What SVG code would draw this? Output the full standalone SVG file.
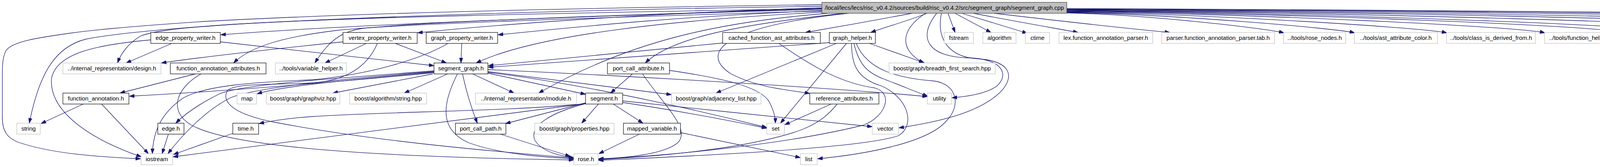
<svg xmlns="http://www.w3.org/2000/svg" width="6236" height="427" viewBox="0 0 6236 427">
<style>
rect{fill:#fff;stroke:#000;stroke-width:1.2}
.g rect{stroke:#bfbfbf}
.m rect{fill:#bfbfbf;stroke:#404040}
text{font-family:"Liberation Sans",Arial,Helvetica,sans-serif;font-size:15px;text-anchor:middle;fill:#000}
#edges path{fill:none;stroke:#191970;stroke-width:1.3;marker-end:url(#a)}
</style>
<defs>
<marker id="a" viewBox="0 0 13 9" markerWidth="13" markerHeight="9" refX="13" refY="4.5" orient="auto" markerUnits="userSpaceOnUse"><path d="M0,0L13,4.5L0,9z" fill="#191970" stroke="#191970" stroke-width="1"/></marker>
</defs>
<rect x="0" y="0" width="6236" height="427" style="fill:#fff;stroke:none"/>
<g id="edges">
<path d="M2104,24 C1600,38 900,62 565,89"/>
<path d="M2104,20 C1700,32 1300,60 1069,84"/>
<path d="M2104,27 C1700,44 1450,72 1275,89"/>
<path d="M2104,31 C1750,50 1380,85 1219,161"/>
<path d="M2160,34 C1900,62 1720,95 1652,161"/>
<path d="M2120,34 C1850,56 1620,100 1379,238"/>
<path d="M2335,34 C2250,50 2150,68 2062,83"/>
<path d="M2373,34 C2320,55 2270,68 2229,83"/>
<path d="M2172,34 C1850,68 1790,135 1870,188 C1940,225 2020,230 2073,239"/>
<path d="M2369,34 C2300,80 2305,130 2365,161"/>
<path d="M2398,34 C2345,100 2380,146 2480,148 C2565,150 2585,190 2552,220 C2525,240 2475,247 2437,250"/>
<path d="M2410,34 C2395,110 2440,146 2500,150 C2600,156 2595,205 2556,240 C2500,290 2400,312 2301,327"/>
<path d="M2427,34 L2445,83"/>
<path d="M2445,34 L2537,83"/>
<path d="M2462,34 L2630,85"/>
<path d="M2492,34 C2600,55 2700,72 2760,83"/>
<path d="M2545,34 C2750,58 2900,74 2995,83"/>
<path d="M2731,33 C2942,38 3236,72 3287,84"/>
<path d="M2731,32 C3011,37 3417,72 3468,84"/>
<path d="M2731,31 C3100,36 3645,71 3704,84"/>
<path d="M2731,30 C3196,35 3881,67 3955,84"/>
<path d="M2731,29 C3276,34 4078,64 4165,84"/>
<path d="M2731,28 C3328,33 4209,62 4304,84"/>
<path d="M2731,27 C3437,32 4477,59 4589,84"/>
<path d="M2731,26 C3548,31 4753,55 4883,84"/>
<path d="M2731,25 C3657,30 5023,52 5170,84"/>
<path d="M2731,24 C3797,29 5369,48 5538,84"/>
<path d="M2731,23 C3906,28 5637,45 5823,84"/>
<path d="M2731,22 C4011,27 5898,43 6101,84"/>
<path d="M2104,12 C1500,20 900,34 520,55 C300,70 230,78 178,85 C100,96 30,106 15,130 C5,150 6,175 6,210 L6,300 C6,335 18,352 45,363 C130,393 250,401 360,406"/>
<path d="M2104,16 C1400,26 900,45 600,62 C450,72 300,84 220,100 C140,120 100,190 75,315"/>
<path d="M2104,22 C1400,34 900,44 600,62 C450,72 390,80 360,92 C330,110 310,135 301,161"/>
<path d="M2104,28 C1500,46 1000,62 860,78 C720,95 640,120 598,161"/>
<path d="M2104,22 C1600,38 1100,55 960,70 C880,72 845,100 806,161"/>
<path d="M440,111 L323,161"/>
<path d="M564,107 C800,132 1000,155 1111,168"/>
<path d="M386,102 C250,114 145,135 132,200 C125,270 200,345 362,401"/>
<path d="M878,107 C700,125 500,148 413,161"/>
<path d="M938,111 L832,161"/>
<path d="M1012,111 L1143,161"/>
<path d="M966,111 C945,160 900,205 800,212 C700,217 600,212 582,232 C566,262 600,292 700,312 C950,360 1250,386 1469,404"/>
<path d="M1182,111 L1180,161"/>
<path d="M1147,111 C1080,150 950,190 800,204 C650,210 530,218 470,250 C410,290 392,340 390,393"/>
<path d="M1111,183 C900,200 660,222 590,250 C530,280 470,340 430,393"/>
<path d="M1111,186 C900,206 600,232 331,246"/>
<path d="M1111,184 C900,204 720,220 658,240"/>
<path d="M1111,181 C900,198 620,214 562,240 C505,268 470,295 450,315"/>
<path d="M1108,189 L852,238"/>
<path d="M1146,189 L1035,238"/>
<path d="M1184,189 C1195,240 1210,285 1222,315"/>
<path d="M1171,189 C1135,260 1120,330 1200,365 C1280,395 1400,402 1469,406"/>
<path d="M1210,189 L1316,238"/>
<path d="M1249,187 L1499,241"/>
<path d="M1249,183 L1719,242"/>
<path d="M1249,178 C1700,198 2200,230 2374,247"/>
<path d="M1249,185 C1500,215 1820,290 1963,326"/>
<path d="M500,189 L307,238"/>
<path d="M515,189 C450,225 430,285 490,320 C600,380 1000,402 1469,409"/>
<path d="M213,266 L105,316"/>
<path d="M260,266 L380,393"/>
<path d="M431,343 L415,393"/>
<path d="M596,341 L444,395"/>
<path d="M1619,189 L1563,238"/>
<path d="M1645,189 C1700,270 1770,330 1735,365 C1700,395 1600,404 1532,406"/>
<path d="M1714,180 C1850,200 1950,222 1970,262 C1982,285 1985,300 1985,315"/>
<path d="M1499,263 L1294,316"/>
<path d="M1532,266 L1489,315"/>
<path d="M1570,266 L1646,315"/>
<path d="M1499,265 C1420,285 1350,320 1370,360 C1390,390 1440,400 1469,403"/>
<path d="M1499,265 C1300,285 1000,285 800,298 C740,302 700,308 663,316"/>
<path d="M1499,265 L443,401"/>
<path d="M1594,262 C1750,285 1900,315 1963,328"/>
<path d="M1594,258 C1800,280 2050,305 2233,324"/>
<path d="M1281,343 L1460,400"/>
<path d="M1637,343 L1533,393"/>
<path d="M1742,339 L2049,403"/>
<path d="M1850,110 L1250,168"/>
<path d="M1994,111 C2080,170 2150,212 2240,225 C2290,240 2265,300 2210,320 C2000,372 1700,398 1532,407"/>
<path d="M2123,109 L1250,172"/>
<path d="M2141,111 L1833,238"/>
<path d="M2167,111 L1998,315"/>
<path d="M2180,111 C2180,160 2190,200 2257,220 C2325,250 2345,320 2300,347 C2200,382 1700,402 1532,410"/>
<path d="M2186,111 C2200,170 2225,188 2265,203 C2305,218 2345,235 2375,246"/>
<path d="M2192,111 C2220,180 2300,200 2391,207 C2450,215 2462,270 2422,310 C2372,368 2200,396 2093,406"/>
<path d="M2226,111 L2367,161"/>
<path d="M2128,266 L2009,319"/>
<path d="M2143,266 C2100,320 2050,342 1900,370 C1750,396 1600,404 1532,408"/>
</g>
<g id="main" class="m"><rect x="2104" y="6" width="627" height="28"/><text x="2417.5" y="25">/local/lecs/lecs/risc_v0.4.2/sources/build/risc_v0.4.2/src/segment_graph/segment_graph.cpp</text></g>
<g id="edge_property_writer"><rect x="386" y="83" width="178" height="28"/><text x="475" y="102">edge_property_writer.h</text></g>
<g id="vertex_property_writer"><rect x="878" y="83" width="190" height="28"/><text x="973" y="102">vertex_property_writer.h</text></g>
<g id="graph_property_writer"><rect x="1091" y="83" width="183" height="28"/><text x="1182.5" y="102">graph_property_writer.h</text></g>
<g id="cached_function_ast_attributes"><rect x="1850" y="83" width="250" height="28"/><text x="1975" y="102">cached_function_ast_attributes.h</text></g>
<g id="graph_helper"><rect x="2123" y="83" width="118" height="28"/><text x="2182" y="102">graph_helper.h</text></g>
<g id="fstream" class="g"><rect x="2417" y="83" width="75" height="28"/><text x="2454.5" y="102">fstream</text></g>
<g id="algorithm" class="g"><rect x="2516" y="83" width="85" height="28"/><text x="2558.5" y="102">algorithm</text></g>
<g id="ctime" class="g"><rect x="2625" y="83" width="62" height="28"/><text x="2656" y="102">ctime</text></g>
<g id="lex_parser" class="g"><rect x="2711" y="83" width="240" height="28"/><text x="2831" y="102">lex.function_annotation_parser.h</text></g>
<g id="parser_tab" class="g"><rect x="2974" y="83" width="289" height="28"/><text x="3118.5" y="102">parser.function_annotation_parser.tab.h</text></g>
<g id="rose_nodes" class="g"><rect x="3286" y="83" width="159" height="28"/><text x="3365.5" y="102">../tools/rose_nodes.h</text></g>
<g id="ast_attribute_color" class="g"><rect x="3467" y="83" width="213" height="28"/><text x="3573.5" y="102">../tools/ast_attribute_color.h</text></g>
<g id="class_is_derived_from" class="g"><rect x="3703" y="83" width="228" height="28"/><text x="3817" y="102">../tools/class_is_derived_from.h</text></g>
<g id="function_helper" class="g"><rect x="3954" y="83" width="186" height="28"/><text x="4047" y="102">../tools/function_helper.h</text></g>
<g id="misc" class="g"><rect x="4164" y="83" width="115" height="28"/><text x="4221.5" y="102">../tools/misc.h</text></g>
<g id="cthread" class="g"><rect x="4303" y="83" width="261" height="28"/><text x="4433.5" y="102">../internal_representation/cthread.h</text></g>
<g id="definition" class="g"><rect x="4588" y="83" width="270" height="28"/><text x="4723" y="102">../internal_representation/definition.h</text></g>
<g id="function" class="g"><rect x="4882" y="83" width="263" height="28"/><text x="5013.5" y="102">../internal_representation/function.h</text></g>
<g id="hierarchical_channel" class="g"><rect x="5169" y="83" width="344" height="28"/><text x="5341" y="102">../internal_representation/hierarchical_channel.h</text></g>
<g id="method" class="g"><rect x="5537" y="83" width="263" height="28"/><text x="5668.5" y="102">../internal_representation/method.h</text></g>
<g id="thread" class="g"><rect x="5822" y="83" width="255" height="28"/><text x="5949.5" y="102">../internal_representation/thread.h</text></g>
<g id="regex" class="g"><rect x="6100" y="83" width="131" height="28"/><text x="6165.5" y="102">boost/regex.hpp</text></g>
<g id="design" class="g"><rect x="161" y="161" width="251" height="28"/><text x="286.5" y="180">../internal_representation/design.h</text></g>
<g id="function_annotation_attributes"><rect x="436" y="161" width="245" height="28"/><text x="558.5" y="180">function_annotation_attributes.h</text></g>
<g id="variable_helper" class="g"><rect x="705" y="161" width="182" height="28"/><text x="796" y="180">../tools/variable_helper.h</text></g>
<g id="segment_graph"><rect x="1111" y="161" width="138" height="28"/><text x="1180" y="180">segment_graph.h</text></g>
<g id="port_call_attribute"><rect x="1555" y="161" width="159" height="28"/><text x="1634.5" y="180">port_call_attribute.h</text></g>
<g id="breadth_first_search" class="g"><rect x="2276" y="161" width="272" height="28"/><text x="2412" y="180">boost/graph/breadth_first_search.hpp</text></g>
<g id="function_annotation"><rect x="161" y="238" width="169" height="28"/><text x="245.5" y="257">function_annotation.h</text></g>
<g id="map" class="g"><rect x="607" y="238" width="50" height="28"/><text x="632" y="257">map</text></g>
<g id="graphviz" class="g"><rect x="682" y="238" width="188" height="28"/><text x="776" y="257">boost/graph/graphviz.hpp</text></g>
<g id="algorithm_string" class="g"><rect x="895" y="238" width="197" height="28"/><text x="993.5" y="257">boost/algorithm/string.hpp</text></g>
<g id="module" class="g"><rect x="1217" y="238" width="259" height="28"/><text x="1346.5" y="257">../internal_representation/module.h</text></g>
<g id="segment"><rect x="1499" y="238" width="95" height="28"/><text x="1546.5" y="257">segment.h</text></g>
<g id="adjacency_list" class="g"><rect x="1719" y="238" width="229" height="28"/><text x="1833.5" y="257">boost/graph/adjacency_list.hpp</text></g>
<g id="reference_attributes"><rect x="2073" y="238" width="177" height="28"/><text x="2161.5" y="257">reference_attributes.h</text></g>
<g id="utility" class="g"><rect x="2374" y="238" width="62" height="28"/><text x="2405" y="257">utility</text></g>
<g id="string" class="g"><rect x="43" y="315" width="60" height="28"/><text x="73" y="334">string</text></g>
<g id="edge"><rect x="404" y="315" width="67" height="28"/><text x="437.5" y="334">edge.h</text></g>
<g id="time"><rect x="596" y="315" width="66" height="28"/><text x="629" y="334">time.h</text></g>
<g id="port_call_path"><rect x="1166" y="315" width="129" height="28"/><text x="1230.5" y="334">port_call_path.h</text></g>
<g id="properties" class="g"><rect x="1369" y="315" width="203" height="28"/><text x="1470.5" y="334">boost/graph/properties.hpp</text></g>
<g id="mapped_variable"><rect x="1596" y="315" width="146" height="28"/><text x="1669" y="334">mapped_variable.h</text></g>
<g id="set" class="g"><rect x="1963" y="315" width="45" height="28"/><text x="1985.5" y="334">set</text></g>
<g id="vector" class="g"><rect x="2233" y="315" width="67" height="28"/><text x="2266.5" y="334">vector</text></g>
<g id="iostream" class="g"><rect x="361" y="393" width="81" height="28"/><text x="401.5" y="412">iostream</text></g>
<g id="rose" class="g"><rect x="1469" y="393" width="62" height="28"/><text x="1500" y="412">rose.h</text></g>
<g id="list" class="g"><rect x="2049" y="393" width="43" height="28"/><text x="2070.5" y="412">list</text></g>
</svg>
